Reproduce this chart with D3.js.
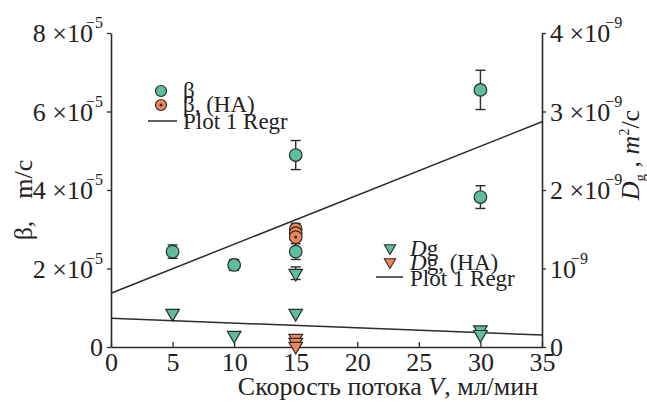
<!DOCTYPE html>
<html>
<head>
	<title>Beta and Dg vs flow rate</title>
	<script type="text/javascript" src="https://cdnjs.cloudflare.com/ajax/libs/d3/7.8.5/d3.min.js"></script>
	<style>
		body { margin: 0; background: #fff; }
		text { font-family: "Liberation Serif", "DejaVu Serif", serif; fill: #222; }
	</style>
</head>
<body>
<svg id="chart" width="647" height="402"></svg>
<script type="text/javascript">
	// flow rate, ml/min
	var betaX = [5, 10, 15, 15, 30, 30];
	var betaY = [2.43e-5, 2.09e-5, 4.89e-5, 2.43e-5, 6.55e-5, 3.82e-5];
	var betaErr = [0.17e-5, 0.14e-5, 0.37e-5, 0.2e-5, 0.5e-5, 0.29e-5];

	var betaHaX = [15, 15, 15];
	var betaHaY = [3.0e-5, 2.9e-5, 2.8e-5];
	var betaHaErr = [0.15e-5, 0, 0];

	var dgX = [5, 10, 15, 15, 30, 30];
	var dgY = [0.43e-9, 0.15e-9, 0.94e-9, 0.43e-9, 0.22e-9, 0.16e-9];
	var dgErr = [0, 0, 0.08e-9, 0, 0, 0];

	var dgHaX = [15, 15, 15];
	var dgHaY = [0.11e-9, 0.06e-9, 0.01e-9];

	// regression lines, values at x = 0 and x = 35
	var regrX = [0, 35];
	var betaRegr = [1.37e-5, 5.74e-5];
	var dgRegr = [0.366e-9, 0.153e-9];

	var xTicks = [0, 5, 10, 15, 20, 25, 30, 35];
	var leftTicks = [0, 2e-5, 4e-5, 6e-5, 8e-5];
	var leftTickLabels = [["0", ""], ["2 ×10", "−5"], ["4 ×10", "−5"], ["6 ×10", "−5"], ["8 ×10", "−5"]];
	var rightTicks = [0, 1e-9, 2e-9, 3e-9, 4e-9];
	var rightTickLabels = [["0", ""], ["10", "−9"], ["2 ×10", "−9"], ["3 ×10", "−9"], ["4 ×10", "−9"]];

	var green = "#5cbf9a";
	var orange = "#f08557";
	var dark = "#2b2b2b";

	var svg = d3.select("#chart");
	var plotLeft = 111, plotRight = 542, plotTop = 33, plotBottom = 347;

	var x = d3.scaleLinear().domain([0, 35]).range([plotLeft, plotRight]);
	var yL = d3.scaleLinear().domain([0, 8e-5]).range([plotBottom, plotTop]);
	var yR = d3.scaleLinear().domain([0, 4e-9]).range([plotBottom, plotTop]);

	// axes
	var xAxis = svg.append("g").attr("transform", "translate(0," + plotBottom + ")")
		.call(d3.axisBottom(x).tickValues(xTicks).tickSizeInner(-5).tickSizeOuter(0).tickFormat(d3.format("d")));
	var lAxis = svg.append("g").attr("transform", "translate(" + plotLeft + ",0)")
		.call(d3.axisLeft(yL).tickValues(leftTicks).tickSizeInner(4).tickSizeOuter(0).tickFormat(""));
	var rAxis = svg.append("g").attr("transform", "translate(" + plotRight + ",0)")
		.call(d3.axisRight(yR).tickValues(rightTicks).tickSizeInner(4).tickSizeOuter(0).tickFormat(""));

	[xAxis, lAxis, rAxis].forEach(function(a) {
		a.select(".domain").attr("stroke", dark).attr("stroke-width", 1.6);
		a.selectAll(".tick line").attr("stroke", dark).attr("stroke-width", 1.3);
	});
	xAxis.selectAll(".tick text").attr("font-size", 26).attr("font-family", "Liberation Serif").attr("fill", "#222").attr("dy", "0.82em");

	// left tick labels with superscripts
	leftTicks.forEach(function(v, i) {
		var t = svg.append("text").attr("x", plotLeft - 8).attr("y", yL(v) + 9)
			.attr("text-anchor", "end").attr("font-size", 26);
		t.append("tspan").text(leftTickLabels[i][0]);
		if (leftTickLabels[i][1]) {
			t.append("tspan").attr("dx", -7).attr("dy", -14).attr("font-size", 16).text(leftTickLabels[i][1]);
		}
	});
	rightTicks.forEach(function(v, i) {
		var t = svg.append("text").attr("x", plotRight + 8).attr("y", yR(v) + 9)
			.attr("text-anchor", "start").attr("font-size", 26);
		t.append("tspan").text(rightTickLabels[i][0]);
		if (rightTickLabels[i][1]) {
			t.append("tspan").attr("dx", -5).attr("dy", -14).attr("font-size", 16).text(rightTickLabels[i][1]);
		}
	});

	// axis titles
	svg.append("text").attr("x", 388).attr("y", 395).attr("text-anchor", "middle")
		.attr("font-size", 26).attr("fill", "#444")
		.html("Скорость потока <tspan font-style='italic'>V</tspan>, мл/мин");
	var lt = svg.append("text").attr("transform", "translate(32,200) rotate(-90)").attr("text-anchor", "middle")
		.attr("font-size", 26).attr("fill", "#444");
	lt.append("tspan").text("β,");
	lt.append("tspan").attr("dx", 22).text("m/c");
	var rt = svg.append("text").attr("transform", "translate(639,155) rotate(-90)").attr("text-anchor", "middle")
		.attr("font-size", 26).attr("fill", "#333");
	rt.append("tspan").attr("font-style", "italic").text("D");
	rt.append("tspan").attr("font-size", 15).attr("dy", 6).text("g");
	rt.append("tspan").attr("dy", -6).text(" , ");
	rt.append("tspan").attr("font-style", "italic").text("m");
	rt.append("tspan").attr("font-size", 14).attr("dy", -10).text("2");
	rt.append("tspan").attr("dy", 10).text("/c");

	// regression lines
	var lineL = d3.line().x(function(d) { return x(d[0]); }).y(function(d) { return yL(d[1]); });
	var lineR = d3.line().x(function(d) { return x(d[0]); }).y(function(d) { return yR(d[1]); });
	svg.append("path").attr("d", lineL(d3.zip(regrX, betaRegr))).attr("fill", "none").attr("stroke", dark).attr("stroke-width", 1.5);
	svg.append("path").attr("d", lineR(d3.zip(regrX, dgRegr))).attr("fill", "none").attr("stroke", dark).attr("stroke-width", 1.5);

	function errorBars(xs, ys, errs, scale) {
		xs.forEach(function(xv, i) {
			if (!errs[i]) return;
			var cx = x(xv), y1 = scale(ys[i] + errs[i]), y2 = scale(ys[i] - errs[i]);
			svg.append("line").attr("x1", cx).attr("x2", cx).attr("y1", y1).attr("y2", y2).attr("stroke", dark).attr("stroke-width", 1.4);
			[y1, y2].forEach(function(yy) {
				svg.append("line").attr("x1", cx - 5).attr("x2", cx + 5).attr("y1", yy).attr("y2", yy).attr("stroke", dark).attr("stroke-width", 1.4);
			});
		});
	}

	var tri = d3.symbol().type(d3.symbolTriangle).size(80);

	function triangles(xs, ys, color, scale) {
		svg.append("g").selectAll("path").data(d3.zip(xs, ys)).enter().append("path")
			.attr("d", tri)
			.attr("transform", function(d) { return "translate(" + x(d[0]) + "," + scale(d[1]) + ") rotate(180)"; })
			.attr("fill", color).attr("stroke", dark).attr("stroke-width", 1.2);
	}

	errorBars(dgX, dgY, dgErr, yR);
	triangles(dgX, dgY, green, yR);
	triangles(dgHaX, dgHaY, orange, yR);

	errorBars(betaX, betaY, betaErr, yL);
	errorBars(betaHaX, betaHaY, betaHaErr, yL);
	svg.append("g").selectAll("circle").data(d3.zip(betaX, betaY)).enter().append("circle")
		.attr("cx", function(d) { return x(d[0]); }).attr("cy", function(d) { return yL(d[1]); })
		.attr("r", 6.3).attr("fill", green).attr("stroke", dark).attr("stroke-width", 1.2);
	var ha = svg.append("g").selectAll("g").data(d3.zip(betaHaX, betaHaY)).enter().append("g");
	ha.append("circle").attr("cx", function(d) { return x(d[0]); }).attr("cy", function(d) { return yL(d[1]); })
		.attr("r", 6.3).attr("fill", orange).attr("stroke", dark).attr("stroke-width", 1.2);
	ha.append("circle").attr("cx", function(d) { return x(d[0]); }).attr("cy", function(d) { return yL(d[1]); })
		.attr("r", 1.6).attr("fill", dark);

	// legend for beta
	svg.append("circle").attr("cx", 161).attr("cy", 91).attr("r", 5.5).attr("fill", green).attr("stroke", dark).attr("stroke-width", 1.2);
	svg.append("circle").attr("cx", 161).attr("cy", 105).attr("r", 5.5).attr("fill", orange).attr("stroke", dark).attr("stroke-width", 1.2);
	svg.append("circle").attr("cx", 161).attr("cy", 105).attr("r", 1.5).attr("fill", dark);
	svg.append("line").attr("x1", 148).attr("x2", 177).attr("y1", 121).attr("y2", 121).attr("stroke", dark).attr("stroke-width", 1.5);
	svg.append("text").attr("x", 183).attr("y", 98).attr("font-size", 23).text("β");
	svg.append("text").attr("x", 183).attr("y", 112).attr("font-size", 23).text("β, (HA)");
	svg.append("text").attr("x", 183).attr("y", 129).attr("font-size", 23).text("Plot 1 Regr");

	// legend for Dg
	svg.append("path").attr("d", d3.symbol().type(d3.symbolTriangle).size(55))
		.attr("transform", "translate(390,248) rotate(180)").attr("fill", green).attr("stroke", dark).attr("stroke-width", 1.1);
	svg.append("path").attr("d", d3.symbol().type(d3.symbolTriangle).size(55))
		.attr("transform", "translate(390,262) rotate(180)").attr("fill", orange).attr("stroke", dark).attr("stroke-width", 1.1);
	svg.append("line").attr("x1", 376).attr("x2", 403).attr("y1", 277).attr("y2", 277).attr("stroke", dark).attr("stroke-width", 1.5);
	svg.append("text").attr("x", 410).attr("y", 256).attr("font-size", 23).html("<tspan font-style='italic'>D</tspan>g");
	svg.append("text").attr("x", 410).attr("y", 270).attr("font-size", 23).html("<tspan font-style='italic'>D</tspan>g, (HA)");
	svg.append("text").attr("x", 410).attr("y", 286).attr("font-size", 23).text("Plot 1 Regr");
</script>
</body>
</html>
